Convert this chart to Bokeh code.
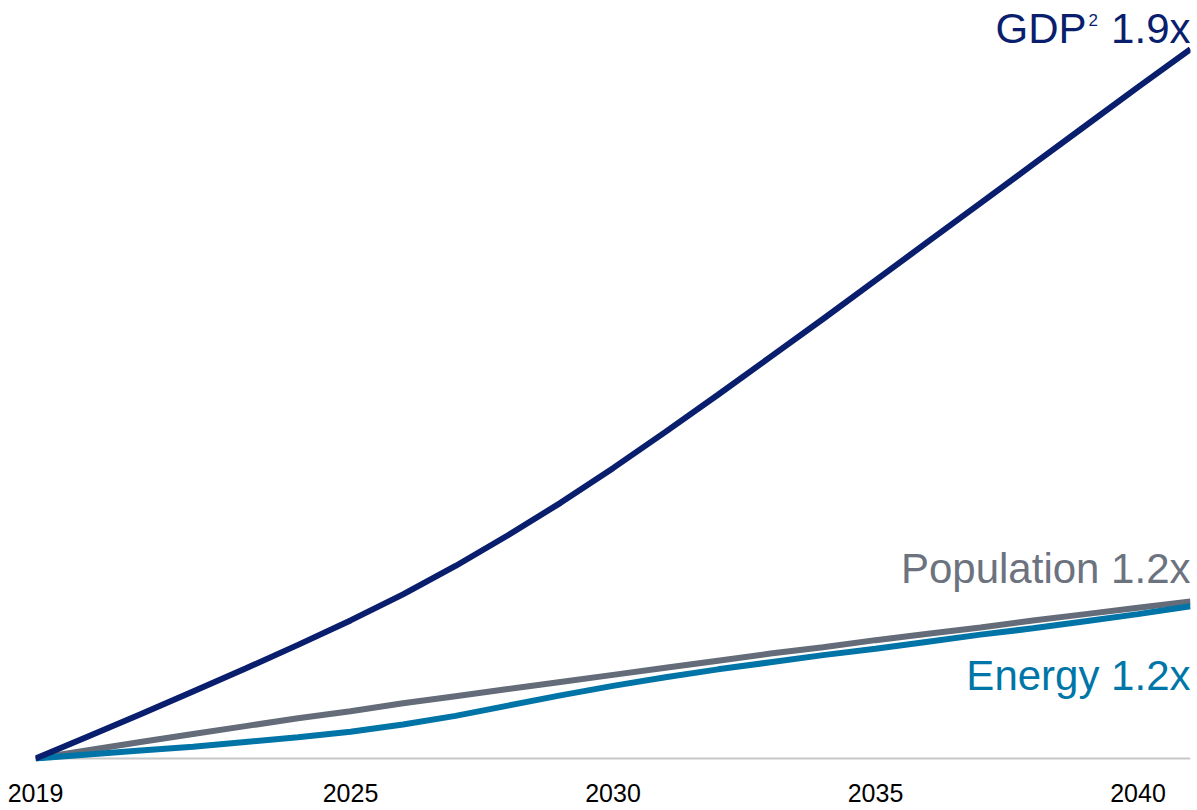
from bokeh.plotting import figure
from bokeh.models import FixedTicker, Span, Label, Range1d
from bokeh.embed import file_html
from bokeh.resources import INLINE

# Index values (2019 = 1.0)
years = list(range(2019, 2042))
gdp = [1.000, 1.028, 1.056, 1.085, 1.114, 1.144, 1.175, 1.208, 1.244, 1.283,
       1.324, 1.368, 1.414, 1.461, 1.509, 1.557, 1.606, 1.655, 1.704, 1.753,
       1.802, 1.851, 1.899]
population = [1.000, 1.0105, 1.021, 1.031, 1.041, 1.051, 1.060, 1.070, 1.079, 1.088,
              1.097, 1.106, 1.115, 1.124, 1.133, 1.141, 1.150, 1.158, 1.166, 1.175,
              1.183, 1.191, 1.199]
energy = [1.000, 1.005, 1.010, 1.015, 1.021, 1.027, 1.034, 1.043, 1.054, 1.067,
          1.080, 1.092, 1.103, 1.113, 1.122, 1.131, 1.139, 1.148, 1.157, 1.165,
          1.174, 1.183, 1.193]
tick_years = [2019, 2025, 2030, 2035, 2040]
series_names = ["GDP", "Population", "Energy"]
footnote_mark = "2"
multipliers = ["1.9x", "1.2x", "1.2x"]
base_value = 1.0

FONT = "Liberation Sans"
C_GDP, C_POP, C_EN = "#0a1e6e", "#646c79", "#0074a6"
T_GDP, T_POP, T_EN = "#0a1e6e", "#6c737f", "#0076a8"

p = figure(frame_width=1155, frame_height=761,
           x_range=Range1d(2019, 2041), y_range=Range1d(0.9962, 1.96071),
           output_backend="svg", toolbar_location=None,
           y_axis_location=None,
           min_border_left=35, min_border_right=3, min_border_top=0, min_border_bottom=49)
p.grid.visible = False
p.outline_line_color = None
p.background_fill_color = "white"
p.border_fill_color = "white"

p.xaxis.ticker = FixedTicker(ticks=tick_years)
p.xaxis.axis_line_color = None
p.xaxis.major_tick_line_color = None
p.xaxis.minor_tick_line_color = None
p.xaxis.major_tick_out = 0
p.xaxis.major_tick_in = 0
p.xaxis.major_label_standoff = 22
p.xaxis.major_label_text_font = FONT
p.xaxis.major_label_text_font_size = "25px"
p.xaxis.major_label_text_color = "#000000"

# baseline at the index value 1.0
p.add_layout(Span(location=base_value, dimension="width", line_color="#c8c8c8",
                  line_width=2, level="underlay"))

p.line(years, population, line_color=C_POP, line_width=6)
p.line(years, energy, line_color=C_EN, line_width=6)
p.line(years, gdp, line_color=C_GDP, line_width=6)

def lab(text, yv, xo, yo, col, size, align):
    p.add_layout(Label(x=years[-1], y=yv, x_offset=xo, y_offset=yo, text=text,
                       text_align=align, text_baseline="middle",
                       text_font=FONT, text_font_size=size, text_color=col))

# GDP label with small superscript footnote mark
lab(multipliers[0], gdp[-1], 0, 21, T_GDP, "42px", "right")
lab(footnote_mark, gdp[-1], -102, 29, T_GDP, "17px", "left")
lab(series_names[0], gdp[-1], -104, 21, T_GDP, "42px", "right")
lab(series_names[1] + " " + multipliers[1], population[-1], 0, 33, T_POP, "42px", "right")
lab(series_names[2] + " " + multipliers[2], energy[-1], 0, -69, T_EN, "42px", "right")

open("out.html", "w").write(file_html(p, INLINE))
